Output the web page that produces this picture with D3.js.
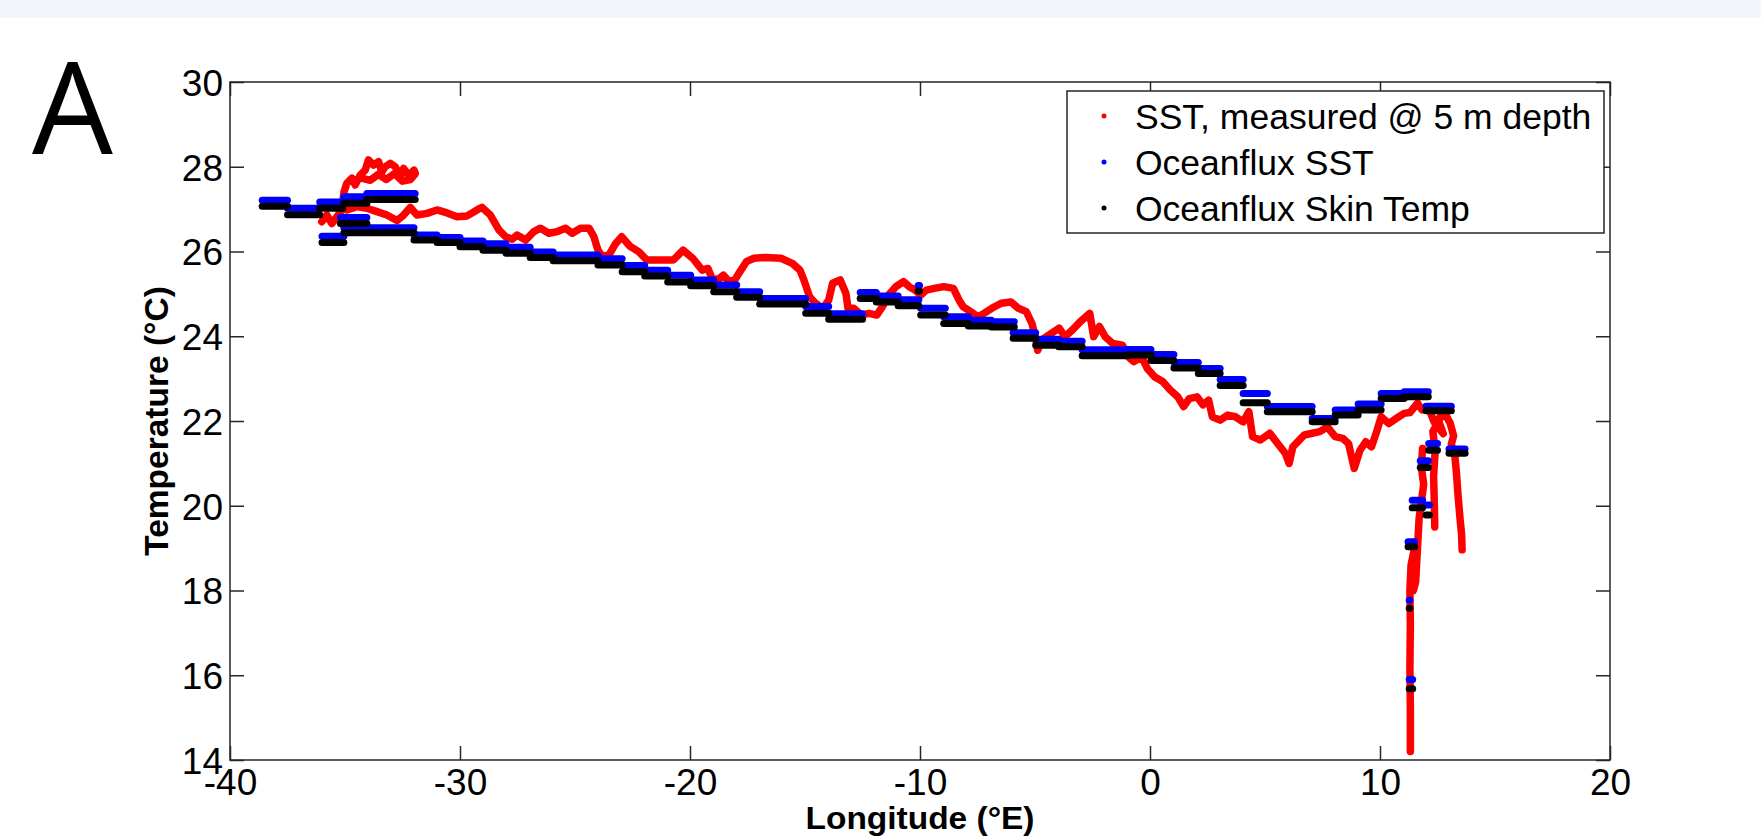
<!DOCTYPE html>
<html>
<head>
<meta charset="utf-8">
<script src="https://cdn.jsdelivr.net/npm/d3@7"></script>
<style>
  html, body { margin: 0; padding: 0; background: #fff; }
  svg { display: block; }
</style>
</head>
<body>
<div id="chart"></div>
<script>
// tick values and text
var xTicks = [-40, -30, -20, -10, 0, 10, 20];
var yTicks = [14, 16, 18, 20, 22, 24, 26, 28, 30];
var seriesNames = ["SST, measured @ 5 m depth", "Oceanflux SST", "Oceanflux Skin Temp"];
var xLabel = "Longitude (°E)";
var yLabel = "Temperature (°C)";
var panelLetter = "A";

// measured SST, [longitude, temperature]
var sstStart = [
  [-36.01, 26.70], [-35.79, 26.86], [-35.57, 26.66], [-35.35, 26.82], [-35.14, 26.98],
  [-35.04, 27.41], [-34.92, 27.61], [-34.70, 27.73], [-34.56, 27.57], [-34.34, 27.80],
  [-34.12, 27.92], [-33.98, 28.16], [-33.76, 28.04], [-33.54, 28.12], [-33.40, 27.88],
  [-33.25, 28.00], [-33.03, 28.08], [-32.81, 28.00], [-32.60, 27.76], [-32.45, 27.96],
  [-32.23, 27.80], [-32.00, 27.92], [-31.94, 27.84], [-32.15, 27.70], [-32.50, 27.66],
  [-32.85, 27.84], [-33.20, 27.70], [-33.55, 27.82], [-33.90, 27.68], [-34.20, 27.72]
];
var sstMain = [
  [-34.92, 26.98], [-34.48, 27.06], [-34.05, 27.02], [-33.61, 26.94], [-33.18, 26.86],
  [-32.74, 26.73], [-32.45, 26.86], [-32.16, 27.04], [-31.87, 26.86], [-31.43, 26.90],
  [-31.00, 26.98], [-30.56, 26.91], [-30.13, 26.82], [-29.69, 26.84], [-29.26, 26.98],
  [-29.04, 27.04], [-28.68, 26.86], [-28.31, 26.51], [-28.02, 26.35], [-27.73, 26.29],
  [-27.52, 26.39], [-27.15, 26.27], [-26.79, 26.47], [-26.50, 26.55], [-26.14, 26.43],
  [-25.77, 26.47], [-25.41, 26.55], [-25.12, 26.43], [-24.76, 26.55], [-24.39, 26.55],
  [-24.18, 26.35], [-24.00, 26.03], [-23.81, 25.88], [-23.52, 25.92], [-23.23, 26.19],
  [-22.97, 26.35], [-22.60, 26.12], [-22.22, 25.99], [-21.88, 25.80], [-21.30, 25.80],
  [-20.72, 25.80], [-20.30, 26.03], [-19.88, 25.84], [-19.47, 25.56], [-19.22, 25.60],
  [-19.05, 25.37], [-18.80, 25.33], [-18.55, 25.44], [-18.30, 25.29], [-18.05, 25.33],
  [-17.88, 25.48], [-17.55, 25.76], [-17.22, 25.84], [-16.72, 25.86], [-16.05, 25.84],
  [-15.55, 25.72], [-15.22, 25.56], [-15.05, 25.33], [-14.80, 24.93], [-14.55, 24.78],
  [-14.22, 24.66], [-13.97, 24.85], [-13.80, 25.25], [-13.47, 25.33], [-13.22, 25.01],
  [-13.13, 24.66], [-12.88, 24.66], [-12.55, 24.50], [-12.22, 24.54], [-11.88, 24.50],
  [-11.63, 24.70], [-11.38, 24.97], [-11.05, 25.17], [-10.72, 25.29], [-10.47, 25.17],
  [-10.22, 25.09], [-9.97, 24.97], [-9.72, 25.09], [-9.38, 25.13], [-8.97, 25.17],
  [-8.55, 25.13], [-8.30, 24.85], [-8.13, 24.70], [-7.80, 24.58], [-7.47, 24.46],
  [-7.22, 24.54], [-6.88, 24.66], [-6.47, 24.78], [-6.05, 24.81], [-5.72, 24.66],
  [-5.38, 24.58], [-5.13, 24.30], [-4.97, 23.95], [-4.88, 23.67], [-4.72, 23.91],
  [-4.29, 24.07], [-3.95, 24.19], [-3.70, 23.99], [-3.37, 24.15], [-3.04, 24.34],
  [-2.62, 24.54], [-2.45, 23.99], [-2.20, 24.23], [-1.95, 23.99], [-1.62, 23.83],
  [-1.20, 23.79], [-0.95, 23.52], [-0.70, 23.40], [-0.37, 23.52], [-0.12, 23.24],
  [0.21, 23.04], [0.55, 22.93], [0.88, 22.73], [1.21, 22.57], [1.46, 22.34],
  [1.71, 22.53], [2.05, 22.57], [2.30, 22.38], [2.55, 22.49], [2.71, 22.10],
  [3.05, 22.02], [3.38, 22.14], [3.71, 22.10], [4.05, 21.98], [4.30, 22.22],
  [4.46, 21.63], [4.80, 21.55], [5.21, 21.71], [5.55, 21.47], [5.88, 21.24],
  [6.05, 21.00], [6.21, 21.39], [6.71, 21.67], [7.38, 21.75], [7.71, 21.86],
  [8.05, 21.63], [8.38, 21.59], [8.63, 21.47], [8.88, 20.88], [9.13, 21.31],
  [9.38, 21.51], [9.63, 21.39], [9.88, 21.79], [10.05, 22.10], [10.38, 21.94],
  [10.71, 22.06], [11.05, 22.18], [11.30, 22.20], [11.63, 22.42], [11.83, 22.26],
  [12.12, 22.30], [12.35, 21.98], [12.56, 22.05], [12.85, 22.15], [13.05, 21.95],
  [13.20, 21.65], [13.10, 21.45], [13.25, 21.20], [13.32, 20.80], [13.40, 20.20],
  [13.48, 19.70], [13.55, 19.30], [13.57, 18.96]
];
var sstCoastMid = [
  [12.70, 22.20], [12.45, 21.90], [12.75, 21.70], [12.55, 22.00], [12.30, 21.75],
  [12.40, 21.30], [12.33, 20.70], [12.36, 20.10], [12.38, 19.50]
];
var sstCoastWest = [
  [11.85, 21.35], [11.80, 20.90], [11.90, 20.50], [11.80, 20.10], [11.70, 19.70],
  [11.65, 19.20], [11.60, 18.70], [11.55, 18.20], [11.45, 18.00], [11.40, 18.70],
  [11.50, 19.00], [11.35, 18.60], [11.30, 18.00], [11.32, 17.20], [11.30, 16.20],
  [11.32, 15.20], [11.32, 14.20]
];

// Oceanflux steps: [lon from, lon to, SST, skin temp]
var oceanfluxSteps = [
  [-38.60, -37.50, 27.21, 27.07], [-37.50, -36.10, 27.02, 26.87], [-36.10, -35.10, 27.17, 27.02],
  [-36.00, -35.05, 26.36, 26.21], [-35.20, -34.05, 26.80, 26.66], [-35.05, -34.05, 27.29, 27.14],
  [-34.05, -31.95, 27.37, 27.23], [-35.05, -32.00, 26.56, 26.44], [-32.00, -31.00, 26.39, 26.27],
  [-31.00, -30.00, 26.33, 26.21], [-30.00, -29.00, 26.25, 26.11], [-29.00, -28.00, 26.18, 26.03],
  [-28.00, -26.95, 26.10, 25.96], [-26.95, -25.95, 25.99, 25.86], [-25.95, -24.00, 25.92, 25.78],
  [-24.00, -22.95, 25.83, 25.68], [-22.95, -21.97, 25.67, 25.52], [-21.97, -20.97, 25.56, 25.42],
  [-20.97, -19.97, 25.44, 25.28], [-19.97, -18.97, 25.33, 25.19], [-18.97, -17.97, 25.21, 25.05],
  [-17.97, -16.97, 25.05, 24.92], [-16.97, -14.97, 24.89, 24.76], [-14.97, -13.97, 24.70, 24.54],
  [-13.97, -12.50, 24.53, 24.40], [-12.60, -11.90, 25.03, 24.89], [-11.90, -10.95, 24.95, 24.81],
  [-10.95, -10.05, 24.86, 24.72], [-10.08, -10.02, 25.20, 25.07], [-9.97, -8.90, 24.66, 24.50],
  [-8.97, -7.90, 24.46, 24.30], [-7.90, -6.90, 24.38, 24.24], [-6.90, -5.90, 24.34, 24.22],
  [-5.95, -4.97, 24.08, 23.95], [-4.97, -3.97, 23.93, 23.79], [-3.97, -2.95, 23.88, 23.75],
  [-2.95, -0.97, 23.68, 23.54], [-0.97, 0.04, 23.69, 23.56], [0.04, 1.04, 23.57, 23.43],
  [1.04, 2.10, 23.38, 23.25], [2.10, 3.05, 23.24, 23.12], [3.05, 4.05, 22.98, 22.84],
  [4.05, 5.10, 22.65, 22.43], [5.10, 7.05, 22.34, 22.22], [7.05, 8.05, 22.06, 21.98],
  [8.05, 9.05, 22.26, 22.14], [9.05, 10.05, 22.40, 22.26], [10.05, 11.05, 22.65, 22.53],
  [11.05, 12.10, 22.69, 22.57], [12.00, 13.10, 22.35, 22.24], [12.12, 12.50, 21.47, 21.31],
  [13.00, 13.70, 21.34, 21.24], [11.75, 12.10, 21.06, 20.90], [11.40, 11.85, 20.13, 19.95],
  [12.00, 12.15, 20.02, 19.78], [11.22, 11.50, 19.15, 19.03], [11.27, 11.30, 17.77, 17.58],
  [11.27, 11.42, 15.90, 15.68]
];

var colors = ["#ff0000", "#0000ff", "#000000"];
var axisColor = "#262626";
var font = "'Liberation Sans', Arial, sans-serif";

var width = 1761, height = 836;
var margin = {top: 82, right: 151, bottom: 76, left: 230};

var svg = d3.select("#chart")
    .append("svg")
    .attr("width", width)
    .attr("height", height);

svg.append("rect")
    .attr("width", width)
    .attr("height", height)
    .attr("fill", "#ffffff");

// light strip at the top of the page
svg.append("rect")
    .attr("width", width)
    .attr("height", 18)
    .attr("fill", "#f2f5f9");

var x = d3.scaleLinear()
    .domain([-40, 20])
    .range([margin.left, width - margin.right]);

var y = d3.scaleLinear()
    .domain([14, 30])
    .range([height - margin.bottom, margin.top]);

// measured SST, drawn first so the satellite steps sit on top
var line = d3.line()
    .x(function (d) { return x(d[0]); })
    .y(function (d) { return y(d[1]); });

[sstStart, sstMain, sstCoastMid, sstCoastWest].forEach(function (part) {
    svg.append("path")
        .datum(part)
        .attr("d", line)
        .attr("fill", "none")
        .attr("stroke", colors[0])
        .attr("stroke-width", 7.5)
        .attr("stroke-linejoin", "round")
        .attr("stroke-linecap", "round");
});

// Oceanflux SST (blue) then skin temp (black)
[2, 3].forEach(function (col, k) {
    svg.append("g")
        .selectAll("line")
        .data(oceanfluxSteps)
        .enter()
        .append("line")
        .attr("x1", function (d) { return x(d[0]); })
        .attr("x2", function (d) { return x(d[1]); })
        .attr("y1", function (d) { return y(d[col]); })
        .attr("y2", function (d) { return y(d[col]); })
        .attr("stroke", colors[k + 1])
        .attr("stroke-width", 7)
        .attr("stroke-linecap", "round");
});

// axes, ticks pointing inwards on all four sides
var tickFont = function (g) {
    g.select(".domain").remove();
    g.selectAll(".tick line").attr("stroke", axisColor).attr("stroke-width", 1.5);
    g.selectAll("text")
        .attr("fill", "#000")
        .style("font-family", font)
        .style("font-size", "37px");
};

svg.append("g")
    .attr("transform", "translate(0," + y(14) + ")")
    .call(d3.axisBottom(x).tickValues(xTicks).tickSize(-14).tickPadding(9)
        .tickFormat(function (d) { return String(d); }))
    .call(tickFont);

svg.append("g")
    .attr("transform", "translate(" + x(-40) + ",0)")
    .call(d3.axisLeft(y).tickValues(yTicks).tickSize(-14).tickPadding(7)
        .tickFormat(function (d) { return String(d); }))
    .call(tickFont)
    .selectAll("text").attr("dy", "0.36em");

svg.append("g")
    .attr("transform", "translate(0," + y(30) + ")")
    .call(d3.axisTop(x).tickValues(xTicks).tickSize(-14).tickFormat(""))
    .call(tickFont);

svg.append("g")
    .attr("transform", "translate(" + x(20) + ",0)")
    .call(d3.axisRight(y).tickValues(yTicks).tickSize(-14).tickFormat(""))
    .call(tickFont);

// box
svg.append("rect")
    .attr("x", x(-40))
    .attr("y", y(30))
    .attr("width", x(20) - x(-40))
    .attr("height", y(14) - y(30))
    .attr("fill", "none")
    .attr("stroke", axisColor)
    .attr("stroke-width", 1.5);

// axis labels (slightly widened, like the original figure)
svg.append("text")
    .attr("transform", "translate(" + (x(-40) + x(20)) / 2 + ",829) scale(1.08,1)")
    .attr("text-anchor", "middle")
    .style("font-family", font)
    .style("font-weight", "bold")
    .style("font-size", "31px")
    .text(xLabel);

svg.append("text")
    .attr("transform", "translate(168," + (y(14) + y(30)) / 2 + ") rotate(-90)")
    .attr("text-anchor", "middle")
    .style("font-family", font)
    .style("font-weight", "bold")
    .style("font-size", "33.5px")
    .text(yLabel);

// panel letter
svg.append("text")
    .attr("x", 32)
    .attr("y", 154)
    .style("font-family", "'Open Sans', sans-serif")
    .style("font-size", "128px")
    .text(panelLetter);

// legend
var legend = svg.append("g").attr("transform", "translate(1067,91)");
legend.append("rect")
    .attr("width", 537)
    .attr("height", 142)
    .attr("fill", "#fff")
    .attr("stroke", axisColor)
    .attr("stroke-width", 1.5);

var rows = legend.selectAll(".row")
    .data(seriesNames)
    .enter()
    .append("g")
    .attr("transform", function (d, i) { return "translate(0," + (25 + i * 46) + ")"; });

rows.append("circle")
    .attr("cx", 37)
    .attr("r", 2.5)
    .attr("fill", function (d, i) { return colors[i]; });

rows.append("text")
    .attr("x", 68)
    .attr("dy", "0.36em")
    .style("font-family", font)
    .style("font-size", "35.5px")
    .text(function (d) { return d; });
</script>
</body>
</html>
